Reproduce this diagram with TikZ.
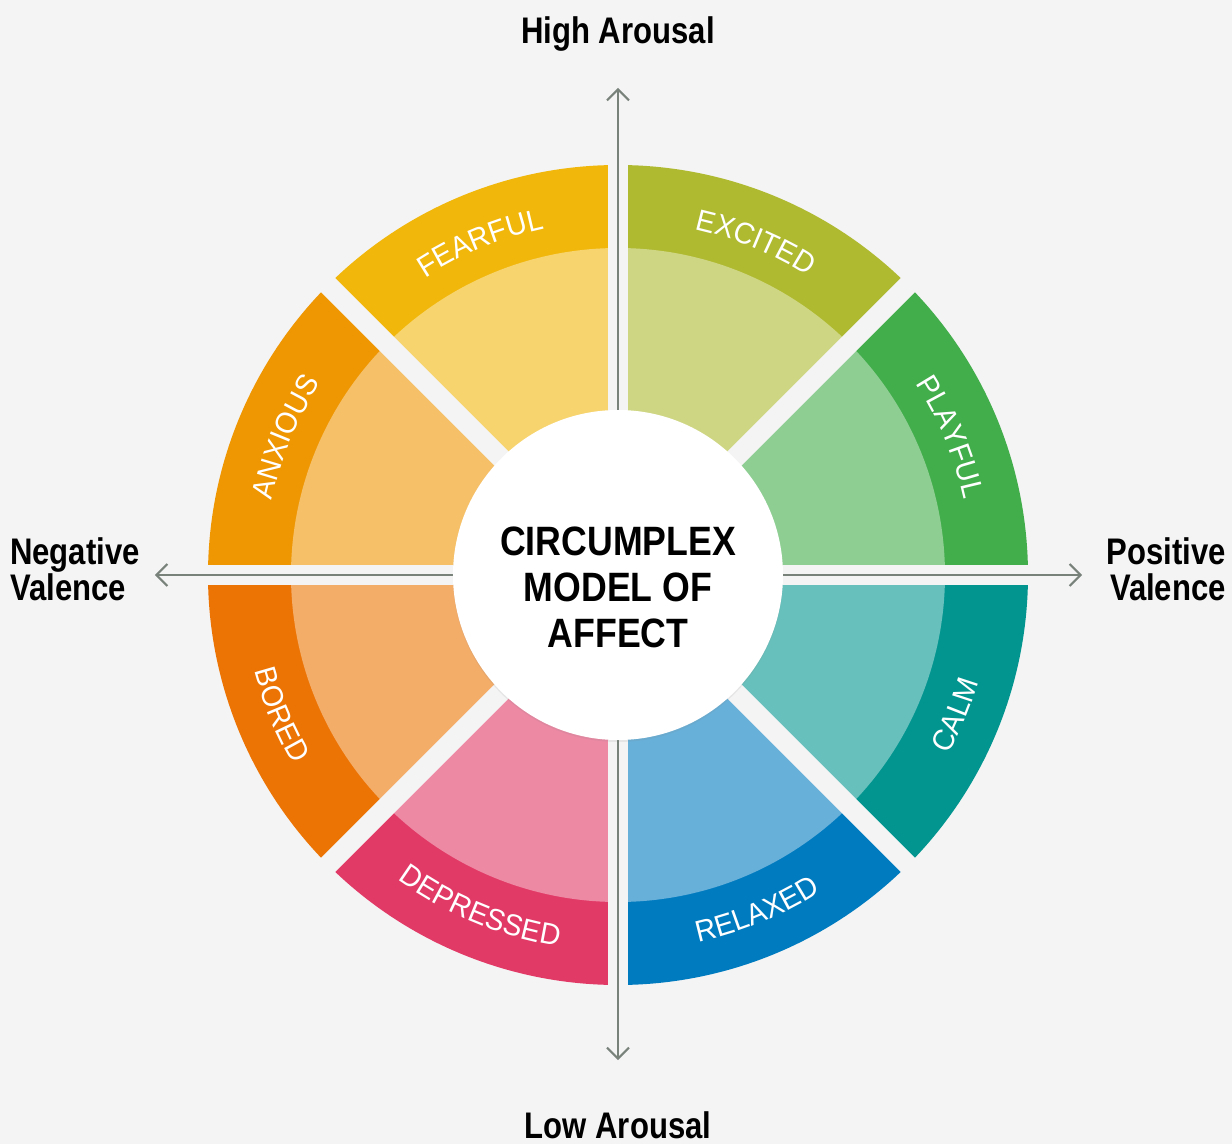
\documentclass[tikz,border=0pt]{standalone}
\usepackage{fontspec}
\usetikzlibrary{arrows.meta, decorations.text, shadows}
\newfontfamily\condfont{Liberation Sans}[FakeStretch=0.84]
\newfontfamily\titlefont{Liberation Sans}[FakeStretch=0.87]
\newfontfamily\labelfont{Liberation Sans}[FakeStretch=0.95]
\definecolor{bgcol}{HTML}{F4F4F4}
\definecolor{axiscol}{HTML}{78817A}
\definecolor{fearful}{HTML}{F2B70B}
\definecolor{excited}{HTML}{AFBA31}
\definecolor{playful}{HTML}{42AD4B}
\definecolor{calm}{HTML}{029590}
\definecolor{relaxed}{HTML}{017BC0}
\definecolor{depressed}{HTML}{E23A67}
\definecolor{bored}{HTML}{EC7405}
\definecolor{anxious}{HTML}{EF9603}

\begin{document}
\begin{tikzpicture}[x=1pt, y=1pt]
	\tikzset{>={Straight Barb[length=11pt, width=22pt]}, axis/.style={line width=2pt, draw=axiscol},
		gap/.style={line width=20pt, draw=bgcol},
		axislabel/.style={font=\condfont\bfseries\fontsize{37}{36}\selectfont, inner sep=0pt},
		toplabel/.style={decorate, decoration={text along path, text align=center, text={|\labelfont\fontsize{30}{30}\selectfont\color{white}|#1}}}}
	\path[use as bounding box, fill=bgcol] (-618,-569) rectangle (614,575);
	
	% outer band
	\fill[fearful] (0,0) -- (90:410pt) arc[start angle=90, end angle=135, radius=410pt] -- cycle;
	\fill[anxious] (0,0) -- (135:410pt) arc[start angle=135, end angle=180, radius=410pt] -- cycle;
	\fill[bored] (0,0) -- (180:410pt) arc[start angle=180, end angle=225, radius=410pt] -- cycle;
	\fill[depressed] (0,0) -- (225:410pt) arc[start angle=225, end angle=270, radius=410pt] -- cycle;
	\fill[relaxed] (0,0) -- (270:410pt) arc[start angle=270, end angle=315, radius=410pt] -- cycle;
	\fill[calm] (0,0) -- (315:410pt) arc[start angle=315, end angle=360, radius=410pt] -- cycle;
	\fill[playful] (0,0) -- (0:410pt) arc[start angle=0, end angle=45, radius=410pt] -- cycle;
	\fill[excited] (0,0) -- (45:410pt) arc[start angle=45, end angle=90, radius=410pt] -- cycle;
	
	% inner band
	\fill[fearful!60!white] (0,0) -- (90:327pt) arc[start angle=90, end angle=135, radius=327pt] -- cycle;
	\fill[anxious!60!white] (0,0) -- (135:327pt) arc[start angle=135, end angle=180, radius=327pt] -- cycle;
	\fill[bored!60!white] (0,0) -- (180:327pt) arc[start angle=180, end angle=225, radius=327pt] -- cycle;
	\fill[depressed!60!white] (0,0) -- (225:327pt) arc[start angle=225, end angle=270, radius=327pt] -- cycle;
	\fill[relaxed!60!white] (0,0) -- (270:327pt) arc[start angle=270, end angle=315, radius=327pt] -- cycle;
	\fill[calm!60!white] (0,0) -- (315:327pt) arc[start angle=315, end angle=360, radius=327pt] -- cycle;
	\fill[playful!60!white] (0,0) -- (0:327pt) arc[start angle=0, end angle=45, radius=327pt] -- cycle;
	\fill[excited!60!white] (0,0) -- (45:327pt) arc[start angle=45, end angle=90, radius=327pt] -- cycle;
	
	% gaps between sectors
	\draw[gap] (0:420pt) -- (180:420pt);
	\draw[gap] (90:420pt) -- (270:420pt);
	\draw[gap] (45:420pt) -- (225:420pt);
	\draw[gap] (135:420pt) -- (315:420pt);
	
	% axes
	\coordinate (N) at (0,487);
	\coordinate (S) at (0,-485);
	\coordinate (W) at (-463,0);
	\coordinate (E) at (464,0);
	\draw[axis, <->] (S) -- (N);
	\draw[axis, <->] (W) -- (E);
	
	\node[circle, fill=white, minimum size=330pt, drop shadow={opacity=0.12, shadow xshift=0pt, shadow yshift=-2pt}] (M) at (0,0) {};
	\node[font=\titlefont\bfseries\fontsize{41}{46}\selectfont, align=center, inner sep=0pt] (T) at (0,-12.5) {CIRCUMPLEX\\MODEL OF\\AFFECT};
	
	\node[axislabel, anchor=base] (HA) at (0,531) {High Arousal};
	\node[axislabel, anchor=base] (LA) at (0,-563) {Low Arousal};
	\node[axislabel, anchor=west, align=left] (NV) at (-608,5.5) {Negative\\Valence};
	\node[axislabel, anchor=east, align=right] (PV) at (608,5.5) {Positive\\Valence};
	
	% sector labels
	\path[toplabel=FEARFUL] (134.5:354pt) arc[start angle=134.5, end angle=90.5, radius=354pt];
	\path[toplabel=ANXIOUS] (179.5:354pt) arc[start angle=179.5, end angle=135.5, radius=354pt];
	\path[toplabel=EXCITED] (89.5:354pt) arc[start angle=89.5, end angle=45.5, radius=354pt];
	\path[toplabel=PLAYFUL] (44.5:354pt) arc[start angle=44.5, end angle=0.5, radius=354pt];
	\path[toplabel=BORED] (180.5:376pt) arc[start angle=180.5, end angle=224.5, radius=376pt];
	\path[toplabel=DEPRESSED] (225.5:376pt) arc[start angle=225.5, end angle=269.5, radius=376pt];
	\path[toplabel=RELAXED] (270.5:376pt) arc[start angle=270.5, end angle=314.5, radius=376pt];
	\path[toplabel=CALM] (315.5:376pt) arc[start angle=315.5, end angle=359.5, radius=376pt];
\end{tikzpicture}
\end{document}
